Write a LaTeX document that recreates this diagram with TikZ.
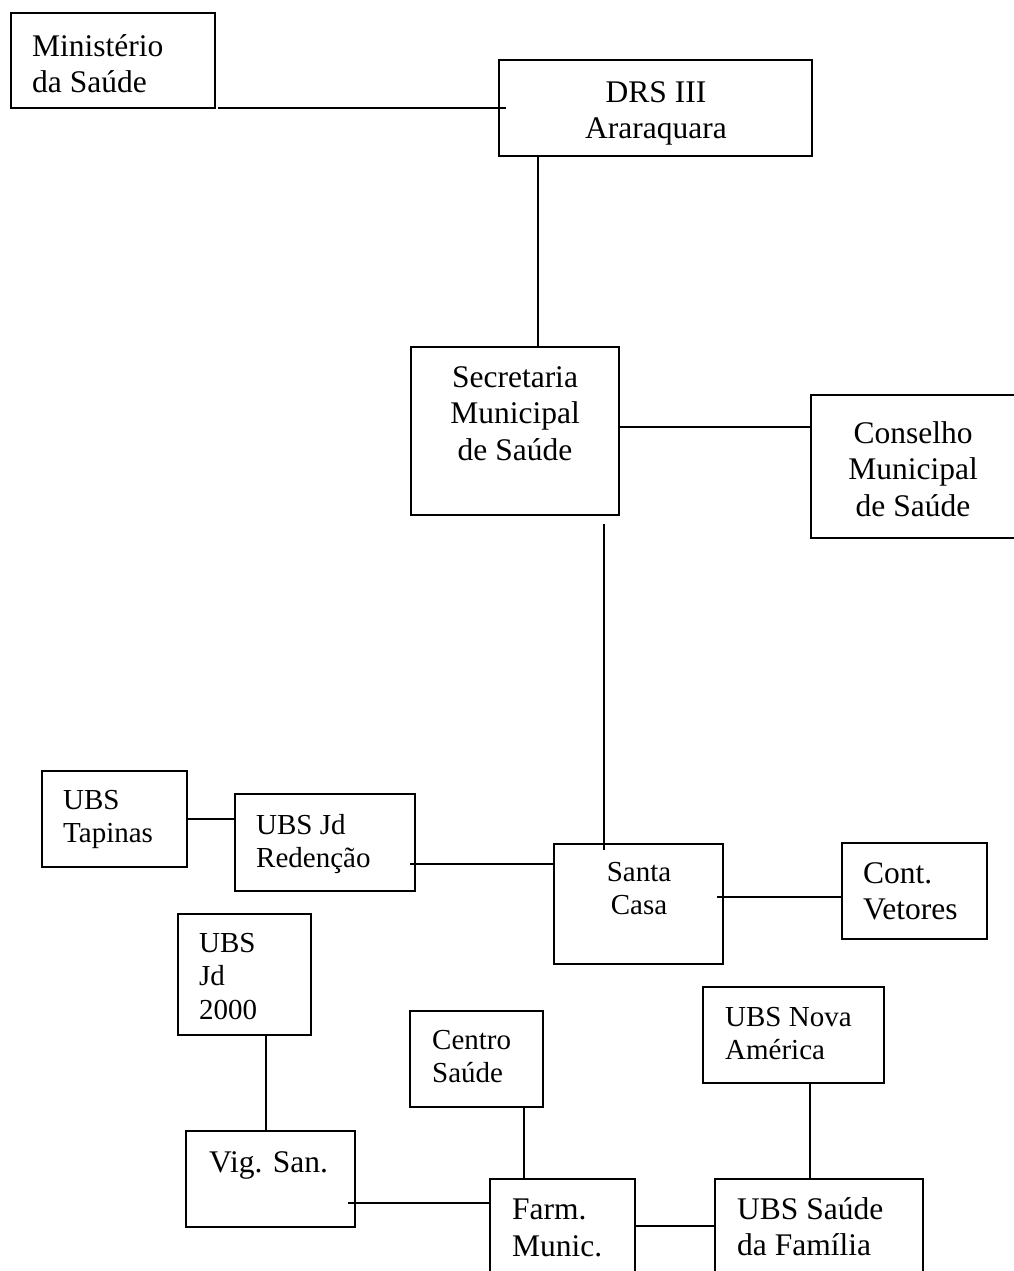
\documentclass[tikz,border=0pt]{standalone}
\usepackage{fontspec}
\setmainfont{Liberation Serif}
\usetikzlibrary{calc}

\begin{document}
\begin{tikzpicture}[x = 1pt, y = -1pt,
    box/.style = {draw, line width = 2pt, inner sep = 0pt},
    link/.style = {line width = 1.9pt},
    txt/.style = {inner sep = 0pt, font = \fontsize{31.5}{36.5}\selectfont},
    smalltxt/.style = {inner sep = 0pt, font = \fontsize{29}{33.5}\selectfont}]
    \useasboundingbox (0,0) rectangle (1013,1271);
    % boxes
    \node[box, minimum width = 204, minimum height = 95] (ms) at (113,60.5){};
    \node[box, minimum width = 313, minimum height = 96] (drs) at (655.5,108){};
    \node[box, minimum width = 208, minimum height = 168] (sms) at (515,431){};
    \node[box, minimum width = 209, minimum height = 143] (cms) at (915.5,466.5){};
    \node[box, minimum width = 145, minimum height = 96] (tap) at (114.5,819){};
    \node[box, minimum width = 180, minimum height = 97] (red) at (325,842.5){};
    \node[box, minimum width = 169, minimum height = 120] (sc) at (638.5,904){};
    \node[box, minimum width = 145, minimum height = 96] (cv) at (914.5,891){};
    \node[box, minimum width = 133, minimum height = 121] (j2k) at (244.5,974.5){};
    \node[box, minimum width = 133, minimum height = 96] (cs) at (476.5,1059){};
    \node[box, minimum width = 181, minimum height = 96] (na) at (793.5,1035){};
    \node[box, minimum width = 169, minimum height = 96] (vs) at (270.5,1179){};
    \node[box, minimum width = 145, minimum height = 111] (fm) at (562.5,1234.5){};
    \node[box, minimum width = 208, minimum height = 111] (sf) at (819,1234.5){};
    % texts
    \node[txt, anchor = north west, align = left] (ms-t) at (32,34){Ministério\\da Saúde};
    \node[txt, anchor = north, align = center] (drs-t) at (656,81){DRS III\\Araraquara};
    \node[txt, anchor = north, align = center] (sms-t) at (515,366){Secretaria\\Municipal\\de Saúde};
    \node[txt, anchor = north, align = center] (cms-t) at (913,421){Conselho\\Municipal\\de Saúde};
    \node[smalltxt, anchor = north west, align = left] (tap-t) at (63,790){UBS\\Tapinas};
    \node[smalltxt, anchor = north west, align = left] (red-t) at (256,814){UBS Jd\\Redenção};
    \node[smalltxt, anchor = north, align = center] (sc-t) at (639,862){Santa\\Casa};
    \node[txt, anchor = north west, align = left] (cv-t) at (863,862){Cont.\\Vetores};
    \node[smalltxt, anchor = north west, align = left] (j2k-t) at (199,933){UBS\\Jd\\2000};
    \node[smalltxt, anchor = north west, align = left] (cs-t) at (432,1030){Centro\\Saúde};
    \node[smalltxt, anchor = north west, align = left] (na-t) at (725,1007){UBS Nova\\América};
    \node[txt, anchor = north west, align = left] (vs-t) at (209,1151){Vig. San.};
    \node[txt, anchor = north west, align = left] (fm-t) at (512,1199){Farm.\\Munic.};
    \node[txt, anchor = north west, align = left] (sf-t) at (737,1197){UBS Saúde\\da Família};
    % links
    \draw[link] ($(ms.south east)+(2,-1)$) coordinate (a1) -- ($(a1 -| drs.west)+(8,0)$);
    \draw[link] ($(drs.south west)+(40,0)$) coordinate (a2) -- (a2 |- sms.north);
    \draw[link] ($(sms.east)+(0,-4)$) coordinate (a3) -- (a3 -| cms.west);
    \draw[link] ($(sms.south east)+(-16,8)$) coordinate (a4) -- ($(a4 |- sc.north)+(0,7)$);
    \draw[link] (tap.east) -- (tap.east -| red.west);
    \draw[link] ($(red.east)+(-6,21.5)$) coordinate (a6) -- (a6 -| sc.west);
    \draw[link] ($(sc.east)+(-7,-7)$) coordinate (a7) -- (a7 -| cv.west);
    \draw[link] ($(j2k.south)+(21.5,0)$) coordinate (a8) -- (a8 |- vs.north);
    \draw[link] ($(cs.south east)+(-20,0)$) coordinate (a9) -- (a9 |- fm.north);
    \draw[link] ($(vs.east)+(-8,24)$) coordinate (a10) -- (a10 -| fm.west);
    \draw[link] ($(na.south)+(16.5,0)$) coordinate (a11) -- (a11 |- sf.north);
    \draw[link] ($(fm.north east)+(0,48)$) coordinate (a12) -- (a12 -| sf.west);
\end{tikzpicture}
\end{document}
